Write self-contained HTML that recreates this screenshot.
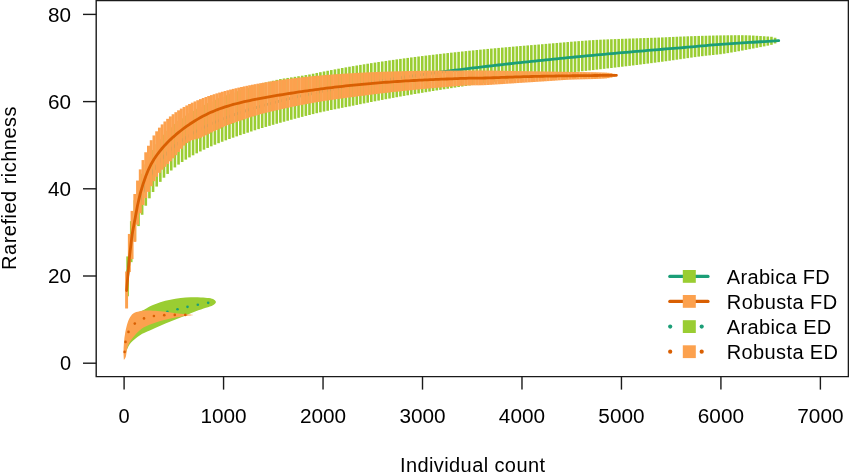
<!DOCTYPE html>
<html><head><meta charset="utf-8"><style>
html,body{margin:0;padding:0;background:#fff;}
body{width:849px;height:473px;overflow:hidden;}
svg{display:block;will-change:transform;}
text{font-family:"Liberation Sans",sans-serif;font-size:20px;fill:#000;}
</style></head><body>
<svg width="849" height="473" viewBox="0 0 849 473">
<rect width="849" height="473" fill="#fff"/>
<g stroke="#9acd32" stroke-width="2.60" stroke-linecap="butt">
<line x1="127.60" y1="256.42" x2="127.60" y2="296.25"/>
<line x1="131.24" y1="221.18" x2="131.24" y2="262.16"/>
<line x1="134.88" y1="200.24" x2="134.88" y2="240.96"/>
<line x1="138.51" y1="185.24" x2="138.51" y2="226.09"/>
<line x1="142.15" y1="173.69" x2="142.15" y2="214.76"/>
<line x1="145.79" y1="164.35" x2="145.79" y2="205.73"/>
<line x1="149.43" y1="156.54" x2="149.43" y2="198.32"/>
<line x1="153.06" y1="149.95" x2="153.06" y2="191.99"/>
<line x1="156.70" y1="144.24" x2="156.70" y2="186.56"/>
<line x1="160.34" y1="139.20" x2="160.34" y2="181.85"/>
<line x1="163.97" y1="134.71" x2="163.97" y2="177.71"/>
<line x1="167.61" y1="130.78" x2="167.61" y2="173.93"/>
<line x1="171.25" y1="127.25" x2="171.25" y2="170.51"/>
<line x1="174.89" y1="124.02" x2="174.89" y2="167.42"/>
<line x1="178.53" y1="121.03" x2="178.53" y2="164.60"/>
<line x1="182.16" y1="118.25" x2="182.16" y2="162.02"/>
<line x1="185.80" y1="115.66" x2="185.80" y2="159.63"/>
<line x1="189.44" y1="113.23" x2="189.44" y2="157.40"/>
<line x1="193.07" y1="110.96" x2="193.07" y2="155.31"/>
<line x1="196.71" y1="108.81" x2="196.71" y2="153.34"/>
<line x1="200.35" y1="106.78" x2="200.35" y2="151.47"/>
<line x1="203.99" y1="104.88" x2="203.99" y2="149.68"/>
<line x1="207.62" y1="103.08" x2="207.62" y2="147.96"/>
<line x1="211.26" y1="101.36" x2="211.26" y2="146.32"/>
<line x1="214.90" y1="99.73" x2="214.90" y2="144.74"/>
<line x1="218.54" y1="98.17" x2="218.54" y2="143.21"/>
<line x1="222.18" y1="96.67" x2="222.18" y2="141.76"/>
<line x1="225.81" y1="95.22" x2="225.81" y2="140.35"/>
<line x1="229.45" y1="93.83" x2="229.45" y2="139.00"/>
<line x1="233.09" y1="92.49" x2="233.09" y2="137.67"/>
<line x1="236.72" y1="91.21" x2="236.72" y2="136.39"/>
<line x1="240.36" y1="89.97" x2="240.36" y2="135.13"/>
<line x1="244.00" y1="88.78" x2="244.00" y2="133.90"/>
<line x1="247.64" y1="87.66" x2="247.64" y2="132.68"/>
<line x1="251.28" y1="86.58" x2="251.28" y2="131.48"/>
<line x1="254.91" y1="85.54" x2="254.91" y2="130.29"/>
<line x1="258.55" y1="84.54" x2="258.55" y2="129.13"/>
<line x1="262.19" y1="83.55" x2="262.19" y2="128.01"/>
<line x1="265.82" y1="82.58" x2="265.82" y2="126.92"/>
<line x1="269.46" y1="81.65" x2="269.46" y2="125.86"/>
<line x1="273.10" y1="80.74" x2="273.10" y2="124.80"/>
<line x1="276.74" y1="79.86" x2="276.74" y2="123.76"/>
<line x1="280.38" y1="79.04" x2="280.38" y2="122.74"/>
<line x1="284.01" y1="78.49" x2="284.01" y2="121.73"/>
<line x1="287.65" y1="77.94" x2="287.65" y2="120.73"/>
<line x1="291.29" y1="77.38" x2="291.29" y2="119.75"/>
<line x1="294.93" y1="76.82" x2="294.93" y2="118.78"/>
<line x1="298.56" y1="76.25" x2="298.56" y2="117.82"/>
<line x1="302.20" y1="75.67" x2="302.20" y2="116.87"/>
<line x1="305.84" y1="75.07" x2="305.84" y2="115.93"/>
<line x1="309.48" y1="74.47" x2="309.48" y2="115.01"/>
<line x1="313.11" y1="73.71" x2="313.11" y2="114.09"/>
<line x1="316.75" y1="72.95" x2="316.75" y2="113.19"/>
<line x1="320.39" y1="72.20" x2="320.39" y2="112.31"/>
<line x1="324.02" y1="71.47" x2="324.02" y2="111.54"/>
<line x1="327.66" y1="70.76" x2="327.66" y2="110.78"/>
<line x1="331.30" y1="70.05" x2="331.30" y2="110.03"/>
<line x1="334.94" y1="69.36" x2="334.94" y2="109.29"/>
<line x1="338.58" y1="68.69" x2="338.58" y2="108.56"/>
<line x1="342.21" y1="68.02" x2="342.21" y2="107.84"/>
<line x1="345.85" y1="67.37" x2="345.85" y2="107.13"/>
<line x1="349.49" y1="66.73" x2="349.49" y2="106.43"/>
<line x1="353.12" y1="66.11" x2="353.12" y2="105.68"/>
<line x1="356.76" y1="65.49" x2="356.76" y2="104.93"/>
<line x1="360.40" y1="64.89" x2="360.40" y2="104.18"/>
<line x1="364.04" y1="64.29" x2="364.04" y2="103.45"/>
<line x1="367.68" y1="63.71" x2="367.68" y2="102.72"/>
<line x1="371.31" y1="63.13" x2="371.31" y2="102.01"/>
<line x1="374.95" y1="62.57" x2="374.95" y2="101.30"/>
<line x1="378.59" y1="62.02" x2="378.59" y2="100.60"/>
<line x1="382.23" y1="61.47" x2="382.23" y2="99.91"/>
<line x1="385.86" y1="60.94" x2="385.86" y2="99.22"/>
<line x1="389.50" y1="60.41" x2="389.50" y2="98.55"/>
<line x1="393.14" y1="59.90" x2="393.14" y2="97.88"/>
<line x1="396.77" y1="59.39" x2="396.77" y2="97.22"/>
<line x1="400.41" y1="58.89" x2="400.41" y2="96.56"/>
<line x1="404.05" y1="58.39" x2="404.05" y2="95.92"/>
<line x1="407.69" y1="57.91" x2="407.69" y2="95.28"/>
<line x1="411.33" y1="57.43" x2="411.33" y2="94.65"/>
<line x1="414.96" y1="56.96" x2="414.96" y2="94.03"/>
<line x1="418.60" y1="56.50" x2="418.60" y2="93.41"/>
<line x1="422.24" y1="56.05" x2="422.24" y2="92.80"/>
<line x1="425.88" y1="55.60" x2="425.88" y2="92.20"/>
<line x1="429.51" y1="55.16" x2="429.51" y2="91.60"/>
<line x1="433.15" y1="54.73" x2="433.15" y2="91.01"/>
<line x1="436.79" y1="54.30" x2="436.79" y2="90.43"/>
<line x1="440.42" y1="53.88" x2="440.42" y2="89.85"/>
<line x1="444.06" y1="53.46" x2="444.06" y2="89.28"/>
<line x1="447.70" y1="53.06" x2="447.70" y2="88.71"/>
<line x1="451.34" y1="52.65" x2="451.34" y2="88.15"/>
<line x1="454.98" y1="52.26" x2="454.98" y2="87.60"/>
<line x1="458.61" y1="51.87" x2="458.61" y2="87.05"/>
<line x1="462.25" y1="51.48" x2="462.25" y2="86.51"/>
<line x1="465.89" y1="51.10" x2="465.89" y2="85.97"/>
<line x1="469.52" y1="50.73" x2="469.52" y2="85.44"/>
<line x1="473.16" y1="50.36" x2="473.16" y2="84.91"/>
<line x1="476.80" y1="49.99" x2="476.80" y2="84.39"/>
<line x1="480.44" y1="49.64" x2="480.44" y2="83.88"/>
<line x1="484.08" y1="49.28" x2="484.08" y2="83.37"/>
<line x1="487.71" y1="48.93" x2="487.71" y2="82.86"/>
<line x1="491.35" y1="48.59" x2="491.35" y2="82.36"/>
<line x1="494.99" y1="48.25" x2="494.99" y2="81.87"/>
<line x1="498.62" y1="47.92" x2="498.62" y2="81.38"/>
<line x1="502.26" y1="47.59" x2="502.26" y2="80.89"/>
<line x1="505.90" y1="47.26" x2="505.90" y2="80.41"/>
<line x1="509.54" y1="46.94" x2="509.54" y2="79.94"/>
<line x1="513.18" y1="46.62" x2="513.18" y2="79.46"/>
<line x1="516.81" y1="46.31" x2="516.81" y2="79.00"/>
<line x1="520.45" y1="46.00" x2="520.45" y2="78.53"/>
<line x1="524.09" y1="45.70" x2="524.09" y2="78.08"/>
<line x1="527.73" y1="45.40" x2="527.73" y2="77.62"/>
<line x1="531.36" y1="45.10" x2="531.36" y2="77.17"/>
<line x1="535.00" y1="44.81" x2="535.00" y2="76.73"/>
<line x1="538.64" y1="44.52" x2="538.64" y2="76.28"/>
<line x1="542.27" y1="44.20" x2="542.27" y2="75.85"/>
<line x1="545.91" y1="43.88" x2="545.91" y2="75.41"/>
<line x1="549.55" y1="43.57" x2="549.55" y2="74.98"/>
<line x1="553.19" y1="43.26" x2="553.19" y2="74.56"/>
<line x1="556.83" y1="42.96" x2="556.83" y2="74.14"/>
<line x1="560.46" y1="42.66" x2="560.46" y2="73.72"/>
<line x1="564.10" y1="42.35" x2="564.10" y2="73.30"/>
<line x1="567.74" y1="42.04" x2="567.74" y2="72.89"/>
<line x1="571.38" y1="41.72" x2="571.38" y2="72.48"/>
<line x1="575.01" y1="41.43" x2="575.01" y2="72.08"/>
<line x1="578.65" y1="41.14" x2="578.65" y2="71.67"/>
<line x1="582.29" y1="40.86" x2="582.29" y2="71.26"/>
<line x1="585.93" y1="40.59" x2="585.93" y2="70.86"/>
<line x1="589.56" y1="40.33" x2="589.56" y2="70.45"/>
<line x1="593.20" y1="40.09" x2="593.20" y2="70.05"/>
<line x1="596.84" y1="39.87" x2="596.84" y2="69.64"/>
<line x1="600.48" y1="39.68" x2="600.48" y2="69.23"/>
<line x1="604.11" y1="39.51" x2="604.11" y2="68.82"/>
<line x1="607.75" y1="39.36" x2="607.75" y2="68.41"/>
<line x1="611.39" y1="39.22" x2="611.39" y2="67.99"/>
<line x1="615.02" y1="39.08" x2="615.02" y2="67.57"/>
<line x1="618.66" y1="38.95" x2="618.66" y2="67.15"/>
<line x1="622.30" y1="38.82" x2="622.30" y2="66.72"/>
<line x1="625.94" y1="38.69" x2="625.94" y2="66.29"/>
<line x1="629.58" y1="38.56" x2="629.58" y2="65.86"/>
<line x1="633.21" y1="38.43" x2="633.21" y2="65.42"/>
<line x1="636.85" y1="38.31" x2="636.85" y2="64.98"/>
<line x1="640.49" y1="38.18" x2="640.49" y2="64.53"/>
<line x1="644.12" y1="38.06" x2="644.12" y2="64.07"/>
<line x1="647.76" y1="37.94" x2="647.76" y2="63.61"/>
<line x1="651.40" y1="37.81" x2="651.40" y2="63.15"/>
<line x1="655.04" y1="37.69" x2="655.04" y2="62.68"/>
<line x1="658.68" y1="37.55" x2="658.68" y2="62.20"/>
<line x1="662.31" y1="37.40" x2="662.31" y2="61.72"/>
<line x1="665.95" y1="37.24" x2="665.95" y2="61.23"/>
<line x1="669.59" y1="37.07" x2="669.59" y2="60.73"/>
<line x1="673.23" y1="36.90" x2="673.23" y2="60.23"/>
<line x1="676.86" y1="36.73" x2="676.86" y2="59.72"/>
<line x1="680.50" y1="36.58" x2="680.50" y2="59.20"/>
<line x1="684.14" y1="36.44" x2="684.14" y2="58.67"/>
<line x1="687.78" y1="36.30" x2="687.78" y2="58.14"/>
<line x1="691.41" y1="36.18" x2="691.41" y2="57.61"/>
<line x1="695.05" y1="36.05" x2="695.05" y2="57.10"/>
<line x1="698.69" y1="35.94" x2="698.69" y2="56.62"/>
<line x1="702.33" y1="35.83" x2="702.33" y2="56.17"/>
<line x1="705.96" y1="35.73" x2="705.96" y2="55.75"/>
<line x1="709.60" y1="35.62" x2="709.60" y2="55.35"/>
<line x1="713.24" y1="35.53" x2="713.24" y2="54.98"/>
<line x1="716.88" y1="35.45" x2="716.88" y2="54.61"/>
<line x1="720.51" y1="35.39" x2="720.51" y2="54.23"/>
<line x1="724.15" y1="35.34" x2="724.15" y2="53.69"/>
<line x1="727.79" y1="35.29" x2="727.79" y2="53.12"/>
<line x1="731.43" y1="35.25" x2="731.43" y2="52.51"/>
<line x1="735.06" y1="35.22" x2="735.06" y2="51.88"/>
<line x1="738.70" y1="35.20" x2="738.70" y2="51.23"/>
<line x1="742.34" y1="35.22" x2="742.34" y2="50.56"/>
<line x1="745.98" y1="35.29" x2="745.98" y2="49.88"/>
<line x1="749.61" y1="35.39" x2="749.61" y2="49.19"/>
<line x1="753.25" y1="35.55" x2="753.25" y2="48.49"/>
<line x1="756.89" y1="35.79" x2="756.89" y2="47.80"/>
<line x1="760.53" y1="36.03" x2="760.53" y2="47.10"/>
<line x1="764.16" y1="36.25" x2="764.16" y2="46.40"/>
<line x1="767.80" y1="36.49" x2="767.80" y2="45.64"/>
<line x1="771.44" y1="36.76" x2="771.44" y2="44.83"/>
<line x1="775.08" y1="37.73" x2="775.08" y2="43.46"/>
<line x1="778.71" y1="40.62" x2="778.71" y2="40.58"/>
</g>
<path d="M127.60,276.34 L131.24,241.67 L134.88,220.60 L138.51,205.66 L142.15,194.23 L145.79,185.04 L149.43,177.43 L153.06,170.97 L156.70,165.40 L160.34,160.52 L163.97,156.21 L167.61,152.35 L171.25,148.88 L174.89,145.72 L178.53,142.82 L182.16,140.14 L185.80,137.64 L189.44,135.32 L193.07,133.13 L196.71,131.08 L200.35,129.13 L203.99,127.28 L207.62,125.52 L211.26,123.84 L214.90,122.23 L218.54,120.69 L222.18,119.21 L225.81,117.79 L229.45,116.41 L233.09,115.08 L236.72,113.80 L240.36,112.55 L244.00,111.34 L247.64,110.17 L251.28,109.03 L254.91,107.92 L258.55,106.84 L262.19,105.78 L265.82,104.75 L269.46,103.75 L273.10,102.77 L276.74,101.81 L280.38,100.88 L284.01,99.96 L287.65,99.06 L291.29,98.19 L294.93,97.33 L298.56,96.48 L302.20,95.66 L305.84,94.84 L309.48,94.05 L313.11,93.27 L316.75,92.50 L320.39,91.74 L324.02,91.00 L327.66,90.27 L331.30,89.55 L334.94,88.85 L338.58,88.15 L342.21,87.47 L345.85,86.80 L349.49,86.13 L353.12,85.48 L356.76,84.84 L360.40,84.20 L364.04,83.58 L367.68,82.96 L371.31,82.35 L374.95,81.75 L378.59,81.16 L382.23,80.58 L385.86,80.00 L389.50,79.43 L393.14,78.87 L396.77,78.31 L400.41,77.76 L404.05,77.22 L407.69,76.68 L411.33,76.15 L414.96,75.63 L418.60,75.11 L422.24,74.60 L425.88,74.10 L429.51,73.59 L433.15,73.10 L436.79,72.61 L440.42,72.12 L444.06,71.65 L447.70,71.17 L451.34,70.70 L454.98,70.24 L458.61,69.77 L462.25,69.32 L465.89,68.87 L469.52,68.42 L473.16,67.98 L476.80,67.54 L480.44,67.10 L484.08,66.67 L487.71,66.25 L491.35,65.82 L494.99,65.40 L498.62,64.99 L502.26,64.58 L505.90,64.17 L509.54,63.76 L513.18,63.36 L516.81,62.96 L520.45,62.57 L524.09,62.18 L527.73,61.79 L531.36,61.40 L535.00,61.02 L538.64,60.64 L542.27,60.27 L545.91,59.89 L549.55,59.52 L553.19,59.16 L556.83,58.79 L560.46,58.43 L564.10,58.07 L567.74,57.71 L571.38,57.36 L575.01,57.01 L578.65,56.66 L582.29,56.31 L585.93,55.97 L589.56,55.63 L593.20,55.29 L596.84,54.95 L600.48,54.62 L604.11,54.29 L607.75,53.96 L611.39,53.63 L615.02,53.30 L618.66,52.98 L622.30,52.66 L625.94,52.34 L629.58,52.02 L633.21,51.71 L636.85,51.40 L640.49,51.09 L644.12,50.78 L647.76,50.47 L651.40,50.16 L655.04,49.86 L658.68,49.56 L662.31,49.26 L665.95,48.96 L669.59,48.67 L673.23,48.37 L676.86,48.08 L680.50,47.79 L684.14,47.50 L687.78,47.21 L691.41,46.89 L695.05,46.54 L698.69,46.19 L702.33,45.86 L705.96,45.54 L709.60,45.23 L713.24,44.93 L716.88,44.64 L720.51,44.37 L724.15,44.13 L727.79,43.89 L731.43,43.65 L735.06,43.41 L738.70,43.17 L742.34,42.94 L745.98,42.70 L749.61,42.47 L753.25,42.23 L756.89,42.00 L760.53,41.77 L764.16,41.53 L767.80,41.30 L771.44,41.07 L775.08,40.85 L778.71,40.62" fill="none" stroke="#1b9e77" stroke-width="2.8" stroke-linecap="round" stroke-linejoin="round"/>
<g stroke="#fca14e" stroke-width="2.95" stroke-linecap="butt">
<line x1="126.60" y1="271.49" x2="126.60" y2="308.50"/>
<line x1="129.34" y1="233.95" x2="129.34" y2="272.05"/>
<line x1="132.07" y1="210.92" x2="132.07" y2="259.11"/>
<line x1="134.81" y1="194.02" x2="134.81" y2="241.91"/>
<line x1="137.55" y1="180.55" x2="137.55" y2="224.66"/>
<line x1="140.28" y1="169.38" x2="140.28" y2="213.22"/>
<line x1="143.02" y1="160.07" x2="143.02" y2="204.99"/>
<line x1="145.76" y1="152.27" x2="145.76" y2="198.05"/>
<line x1="148.49" y1="145.73" x2="148.49" y2="191.85"/>
<line x1="151.23" y1="140.20" x2="151.23" y2="186.23"/>
<line x1="153.97" y1="135.44" x2="153.97" y2="181.22"/>
<line x1="156.70" y1="131.30" x2="156.70" y2="176.77"/>
<line x1="159.44" y1="127.64" x2="159.44" y2="172.82"/>
<line x1="162.17" y1="124.39" x2="162.17" y2="169.70"/>
<line x1="164.91" y1="121.47" x2="164.91" y2="166.86"/>
<line x1="167.65" y1="118.82" x2="167.65" y2="164.09"/>
<line x1="170.38" y1="116.42" x2="170.38" y2="161.28"/>
<line x1="173.12" y1="114.22" x2="173.12" y2="158.31"/>
<line x1="175.86" y1="112.19" x2="175.86" y2="155.23"/>
<line x1="178.59" y1="110.32" x2="178.59" y2="152.03"/>
<line x1="181.33" y1="108.58" x2="181.33" y2="148.74"/>
<line x1="184.07" y1="106.95" x2="184.07" y2="145.60"/>
<line x1="186.80" y1="105.44" x2="186.80" y2="143.05"/>
<line x1="189.54" y1="104.02" x2="189.54" y2="141.41"/>
<line x1="192.28" y1="102.68" x2="192.28" y2="140.19"/>
<line x1="195.01" y1="101.42" x2="195.01" y2="139.34"/>
<line x1="197.75" y1="100.23" x2="197.75" y2="138.65"/>
<line x1="200.49" y1="99.10" x2="200.49" y2="137.84"/>
<line x1="203.22" y1="98.02" x2="203.22" y2="136.67"/>
<line x1="205.96" y1="97.00" x2="205.96" y2="135.31"/>
<line x1="208.69" y1="96.03" x2="208.69" y2="133.82"/>
<line x1="211.43" y1="95.10" x2="211.43" y2="132.46"/>
<line x1="214.17" y1="94.21" x2="214.17" y2="131.23"/>
<line x1="216.90" y1="93.35" x2="216.90" y2="129.97"/>
<line x1="219.64" y1="92.54" x2="219.64" y2="128.69"/>
<line x1="222.38" y1="91.75" x2="222.38" y2="127.42"/>
<line x1="225.11" y1="90.99" x2="225.11" y2="126.17"/>
<line x1="227.85" y1="90.26" x2="227.85" y2="125.08"/>
<line x1="230.59" y1="89.56" x2="230.59" y2="124.03"/>
<line x1="233.32" y1="88.88" x2="233.32" y2="123.04"/>
<line x1="236.06" y1="88.22" x2="236.06" y2="122.09"/>
<line x1="238.80" y1="87.59" x2="238.80" y2="121.19"/>
<line x1="241.53" y1="86.97" x2="241.53" y2="120.25"/>
<line x1="244.27" y1="86.38" x2="244.27" y2="119.28"/>
<line x1="247.01" y1="85.80" x2="247.01" y2="118.34"/>
<line x1="249.74" y1="85.24" x2="249.74" y2="117.44"/>
<line x1="252.48" y1="84.70" x2="252.48" y2="116.58"/>
<line x1="255.22" y1="84.17" x2="255.22" y2="115.74"/>
<line x1="257.95" y1="83.66" x2="257.95" y2="114.93"/>
<line x1="260.69" y1="83.17" x2="260.69" y2="114.16"/>
<line x1="263.42" y1="82.69" x2="263.42" y2="113.44"/>
<line x1="266.16" y1="82.22" x2="266.16" y2="112.75"/>
<line x1="268.90" y1="81.77" x2="268.90" y2="112.07"/>
<line x1="271.63" y1="81.33" x2="271.63" y2="111.42"/>
<line x1="274.37" y1="80.91" x2="274.37" y2="110.79"/>
<line x1="277.11" y1="80.50" x2="277.11" y2="110.17"/>
<line x1="279.84" y1="80.10" x2="279.84" y2="109.58"/>
<line x1="282.58" y1="79.72" x2="282.58" y2="108.95"/>
<line x1="285.32" y1="79.35" x2="285.32" y2="108.34"/>
<line x1="288.05" y1="78.99" x2="288.05" y2="107.74"/>
<line x1="290.79" y1="78.64" x2="290.79" y2="107.16"/>
<line x1="293.53" y1="78.30" x2="293.53" y2="106.59"/>
<line x1="296.26" y1="77.97" x2="296.26" y2="106.03"/>
<line x1="299.00" y1="77.65" x2="299.00" y2="105.48"/>
<line x1="301.74" y1="77.34" x2="301.74" y2="104.95"/>
<line x1="304.47" y1="77.04" x2="304.47" y2="104.43"/>
<line x1="307.21" y1="76.76" x2="307.21" y2="103.91"/>
<line x1="309.95" y1="76.48" x2="309.95" y2="103.41"/>
<line x1="312.68" y1="76.21" x2="312.68" y2="102.91"/>
<line x1="315.42" y1="75.95" x2="315.42" y2="102.43"/>
<line x1="318.15" y1="75.69" x2="318.15" y2="101.95"/>
<line x1="320.89" y1="75.45" x2="320.89" y2="101.50"/>
<line x1="323.63" y1="75.21" x2="323.63" y2="101.08"/>
<line x1="326.36" y1="74.98" x2="326.36" y2="100.66"/>
<line x1="329.10" y1="74.76" x2="329.10" y2="100.26"/>
<line x1="331.84" y1="74.55" x2="331.84" y2="99.86"/>
<line x1="334.57" y1="74.35" x2="334.57" y2="99.47"/>
<line x1="337.31" y1="74.15" x2="337.31" y2="99.08"/>
<line x1="340.05" y1="73.96" x2="340.05" y2="98.70"/>
<line x1="342.78" y1="73.77" x2="342.78" y2="98.33"/>
<line x1="345.52" y1="73.60" x2="345.52" y2="97.96"/>
<line x1="348.26" y1="73.42" x2="348.26" y2="97.60"/>
<line x1="350.99" y1="73.26" x2="350.99" y2="97.24"/>
<line x1="353.73" y1="73.10" x2="353.73" y2="96.89"/>
<line x1="356.47" y1="72.95" x2="356.47" y2="96.54"/>
<line x1="359.20" y1="72.80" x2="359.20" y2="96.20"/>
<line x1="361.94" y1="72.66" x2="361.94" y2="95.85"/>
<line x1="364.68" y1="72.53" x2="364.68" y2="95.48"/>
<line x1="367.41" y1="72.40" x2="367.41" y2="95.13"/>
<line x1="370.15" y1="72.27" x2="370.15" y2="94.78"/>
<line x1="372.88" y1="72.16" x2="372.88" y2="94.43"/>
<line x1="375.62" y1="72.04" x2="375.62" y2="94.09"/>
<line x1="378.36" y1="71.93" x2="378.36" y2="93.76"/>
<line x1="381.09" y1="71.83" x2="381.09" y2="93.43"/>
<line x1="383.83" y1="71.73" x2="383.83" y2="93.11"/>
<line x1="386.57" y1="71.64" x2="386.57" y2="92.79"/>
<line x1="389.30" y1="71.55" x2="389.30" y2="92.48"/>
<line x1="392.04" y1="71.46" x2="392.04" y2="92.18"/>
<line x1="394.78" y1="71.38" x2="394.78" y2="91.88"/>
<line x1="397.51" y1="71.31" x2="397.51" y2="91.59"/>
<line x1="400.25" y1="71.24" x2="400.25" y2="91.30"/>
<line x1="402.99" y1="71.17" x2="402.99" y2="91.00"/>
<line x1="405.72" y1="71.11" x2="405.72" y2="90.71"/>
<line x1="408.46" y1="71.05" x2="408.46" y2="90.43"/>
<line x1="411.20" y1="70.99" x2="411.20" y2="90.15"/>
<line x1="413.93" y1="70.94" x2="413.93" y2="89.88"/>
<line x1="416.67" y1="70.89" x2="416.67" y2="89.61"/>
<line x1="419.41" y1="70.85" x2="419.41" y2="89.35"/>
<line x1="422.14" y1="70.81" x2="422.14" y2="89.09"/>
<line x1="424.88" y1="70.77" x2="424.88" y2="88.84"/>
<line x1="427.62" y1="70.74" x2="427.62" y2="88.60"/>
<line x1="430.35" y1="70.71" x2="430.35" y2="88.36"/>
<line x1="433.09" y1="70.68" x2="433.09" y2="88.12"/>
<line x1="435.82" y1="70.66" x2="435.82" y2="87.89"/>
<line x1="438.56" y1="70.64" x2="438.56" y2="87.67"/>
<line x1="441.30" y1="70.63" x2="441.30" y2="87.43"/>
<line x1="444.03" y1="70.63" x2="444.03" y2="87.18"/>
<line x1="446.77" y1="70.62" x2="446.77" y2="86.94"/>
<line x1="449.51" y1="70.62" x2="449.51" y2="86.70"/>
<line x1="452.24" y1="70.62" x2="452.24" y2="86.47"/>
<line x1="454.98" y1="70.61" x2="454.98" y2="86.26"/>
<line x1="457.72" y1="70.61" x2="457.72" y2="86.05"/>
<line x1="460.45" y1="70.60" x2="460.45" y2="85.87"/>
<line x1="463.19" y1="70.59" x2="463.19" y2="85.70"/>
<line x1="465.93" y1="70.58" x2="465.93" y2="85.56"/>
<line x1="468.66" y1="70.57" x2="468.66" y2="85.45"/>
<line x1="471.40" y1="70.55" x2="471.40" y2="85.38"/>
<line x1="474.14" y1="70.53" x2="474.14" y2="85.33"/>
<line x1="476.87" y1="70.52" x2="476.87" y2="85.31"/>
<line x1="479.61" y1="70.50" x2="479.61" y2="85.30"/>
<line x1="482.35" y1="70.50" x2="482.35" y2="85.24"/>
<line x1="485.08" y1="70.52" x2="485.08" y2="85.14"/>
<line x1="487.82" y1="70.54" x2="487.82" y2="84.99"/>
<line x1="490.55" y1="70.57" x2="490.55" y2="84.82"/>
<line x1="493.29" y1="70.61" x2="493.29" y2="84.64"/>
<line x1="496.03" y1="70.65" x2="496.03" y2="84.46"/>
<line x1="498.76" y1="70.70" x2="498.76" y2="84.28"/>
<line x1="501.50" y1="70.75" x2="501.50" y2="84.11"/>
<line x1="504.24" y1="70.80" x2="504.24" y2="83.94"/>
<line x1="506.97" y1="70.86" x2="506.97" y2="83.76"/>
<line x1="509.71" y1="70.91" x2="509.71" y2="83.58"/>
<line x1="512.45" y1="70.97" x2="512.45" y2="83.40"/>
<line x1="515.18" y1="71.02" x2="515.18" y2="83.22"/>
<line x1="517.92" y1="71.07" x2="517.92" y2="83.04"/>
<line x1="520.66" y1="71.11" x2="520.66" y2="82.86"/>
<line x1="523.39" y1="71.15" x2="523.39" y2="82.68"/>
<line x1="526.13" y1="71.19" x2="526.13" y2="82.51"/>
<line x1="528.87" y1="71.24" x2="528.87" y2="82.33"/>
<line x1="531.60" y1="71.28" x2="531.60" y2="82.16"/>
<line x1="534.34" y1="71.32" x2="534.34" y2="81.98"/>
<line x1="537.07" y1="71.36" x2="537.07" y2="81.81"/>
<line x1="539.81" y1="71.40" x2="539.81" y2="81.63"/>
<line x1="542.55" y1="71.45" x2="542.55" y2="81.46"/>
<line x1="545.28" y1="71.49" x2="545.28" y2="81.28"/>
<line x1="548.02" y1="71.53" x2="548.02" y2="81.10"/>
<line x1="550.76" y1="71.58" x2="550.76" y2="80.91"/>
<line x1="553.49" y1="71.62" x2="553.49" y2="80.72"/>
<line x1="556.23" y1="71.66" x2="556.23" y2="80.53"/>
<line x1="558.97" y1="71.71" x2="558.97" y2="80.34"/>
<line x1="561.70" y1="71.76" x2="561.70" y2="80.16"/>
<line x1="564.44" y1="71.80" x2="564.44" y2="79.99"/>
<line x1="567.18" y1="71.85" x2="567.18" y2="79.84"/>
<line x1="569.91" y1="71.90" x2="569.91" y2="79.70"/>
<line x1="572.65" y1="71.94" x2="572.65" y2="79.59"/>
<line x1="575.39" y1="71.99" x2="575.39" y2="79.50"/>
<line x1="578.12" y1="72.02" x2="578.12" y2="79.42"/>
<line x1="580.86" y1="72.06" x2="580.86" y2="79.35"/>
<line x1="583.60" y1="72.10" x2="583.60" y2="79.28"/>
<line x1="586.33" y1="72.14" x2="586.33" y2="79.22"/>
<line x1="589.07" y1="72.18" x2="589.07" y2="79.16"/>
<line x1="591.80" y1="72.23" x2="591.80" y2="79.09"/>
<line x1="594.54" y1="72.29" x2="594.54" y2="79.00"/>
<line x1="597.28" y1="72.35" x2="597.28" y2="78.90"/>
<line x1="600.01" y1="72.43" x2="600.01" y2="78.78"/>
<line x1="602.75" y1="72.52" x2="602.75" y2="78.64"/>
<line x1="605.49" y1="72.62" x2="605.49" y2="78.46"/>
<line x1="608.22" y1="72.81" x2="608.22" y2="78.11"/>
<line x1="610.96" y1="73.13" x2="610.96" y2="77.56"/>
<line x1="613.70" y1="73.84" x2="613.70" y2="76.70"/>
<line x1="616.43" y1="75.32" x2="616.43" y2="75.28"/>
</g>
<path d="M126.60,290.50 L129.34,257.98 L132.07,234.79 L134.81,220.06 L137.55,205.21 L140.28,193.41 L143.02,184.17 L145.76,176.31 L148.49,169.56 L151.23,163.97 L153.97,159.28 L156.70,155.22 L159.44,151.59 L162.17,148.25 L164.91,145.18 L167.65,142.31 L170.38,139.62 L173.12,137.09 L175.86,134.70 L178.59,132.43 L181.33,130.26 L184.07,128.18 L186.80,126.20 L189.54,124.29 L192.28,122.48 L195.01,120.75 L197.75,119.11 L200.49,117.55 L203.22,116.07 L205.96,114.67 L208.69,113.35 L211.43,112.10 L214.17,110.93 L216.90,109.82 L219.64,108.79 L222.38,107.81 L225.11,106.90 L227.85,106.04 L230.59,105.23 L233.32,104.46 L236.06,103.73 L238.80,103.03 L241.53,102.36 L244.27,101.73 L247.01,101.11 L249.74,100.52 L252.48,99.95 L255.22,99.40 L257.95,98.87 L260.69,98.35 L263.42,97.84 L266.16,97.34 L268.90,96.86 L271.63,96.38 L274.37,95.92 L277.11,95.46 L279.84,95.00 L282.58,94.56 L285.32,94.12 L288.05,93.68 L290.79,93.25 L293.53,92.82 L296.26,92.40 L299.00,91.99 L301.74,91.58 L304.47,91.18 L307.21,90.79 L309.95,90.40 L312.68,90.02 L315.42,89.65 L318.15,89.28 L320.89,88.92 L323.63,88.56 L326.36,88.22 L329.10,87.88 L331.84,87.54 L334.57,87.22 L337.31,86.89 L340.05,86.58 L342.78,86.27 L345.52,85.97 L348.26,85.68 L350.99,85.39 L353.73,85.11 L356.47,84.84 L359.20,84.57 L361.94,84.31 L364.68,84.06 L367.41,83.81 L370.15,83.57 L372.88,83.33 L375.62,83.10 L378.36,82.88 L381.09,82.66 L383.83,82.45 L386.57,82.24 L389.30,82.04 L392.04,81.85 L394.78,81.66 L397.51,81.48 L400.25,81.30 L402.99,81.13 L405.72,80.96 L408.46,80.80 L411.20,80.64 L413.93,80.49 L416.67,80.34 L419.41,80.20 L422.14,80.06 L424.88,79.93 L427.62,79.80 L430.35,79.67 L433.09,79.54 L435.82,79.42 L438.56,79.31 L441.30,79.20 L444.03,79.10 L446.77,78.99 L449.51,78.89 L452.24,78.78 L454.98,78.67 L457.72,78.57 L460.45,78.47 L463.19,78.37 L465.93,78.29 L468.66,78.22 L471.40,78.17 L474.14,78.14 L476.87,78.12 L479.61,78.10 L482.35,78.06 L485.08,77.99 L487.82,77.92 L490.55,77.83 L493.29,77.73 L496.03,77.64 L498.76,77.54 L501.50,77.45 L504.24,77.35 L506.97,77.25 L509.71,77.15 L512.45,77.05 L515.18,76.95 L517.92,76.86 L520.66,76.78 L523.39,76.70 L526.13,76.63 L528.87,76.56 L531.60,76.49 L534.34,76.43 L537.07,76.36 L539.81,76.30 L542.55,76.25 L545.28,76.19 L548.02,76.14 L550.76,76.09 L553.49,76.05 L556.23,76.00 L558.97,75.96 L561.70,75.92 L564.44,75.88 L567.18,75.84 L569.91,75.80 L572.65,75.76 L575.39,75.73 L578.12,75.69 L580.86,75.66 L583.60,75.63 L586.33,75.60 L589.07,75.57 L591.80,75.54 L594.54,75.51 L597.28,75.48 L600.01,75.45 L602.75,75.42 L605.49,75.40 L608.22,75.37 L610.96,75.35 L613.70,75.32 L616.43,75.30" fill="none" stroke="#d95f02" stroke-width="2.8" stroke-linecap="round" stroke-linejoin="round"/>
<path d="M124.50,352.00 C124.75,349.17 125.25,340.00 126.00,335.00 C126.75,330.00 127.67,325.50 129.00,322.00 C130.33,318.50 132.17,315.75 134.00,314.00 C135.83,312.25 138.32,312.20 140.00,311.50 C141.68,310.80 142.42,310.67 144.10,309.80 C145.78,308.93 147.40,307.57 150.10,306.30 C152.80,305.03 156.92,303.30 160.30,302.20 C163.68,301.10 167.02,300.38 170.40,299.70 C173.78,299.02 177.22,298.50 180.60,298.10 C183.98,297.70 187.32,297.42 190.70,297.30 C194.08,297.18 197.85,297.27 200.90,297.40 C203.95,297.53 206.80,297.72 209.00,298.10 C211.20,298.48 212.95,299.02 214.10,299.70 C215.25,300.38 216.08,301.28 215.90,302.20 C215.72,303.12 214.67,304.27 213.00,305.20 C211.33,306.13 208.77,306.78 205.90,307.80 C203.03,308.82 199.17,310.03 195.80,311.30 C192.43,312.57 189.08,314.05 185.70,315.40 C182.32,316.75 178.88,318.05 175.50,319.40 C172.12,320.75 168.78,322.05 165.40,323.50 C162.02,324.95 158.58,326.58 155.20,328.10 C151.82,329.62 147.63,331.42 145.10,332.60 C142.57,333.78 141.68,334.13 140.00,335.20 C138.32,336.27 136.48,337.78 135.00,339.00 C133.52,340.22 132.18,341.30 131.10,342.50 C130.02,343.70 129.27,344.78 128.50,346.20 C127.73,347.62 127.08,349.20 126.50,351.00 C125.92,352.80 125.33,355.67 125.00,357.00 C124.67,358.33 124.58,358.67 124.50,359.00" fill="#9acd32"/>
<circle cx="133.00" cy="320.50" r="1.3" fill="#1b9e77"/>
<circle cx="141.50" cy="315.50" r="1.3" fill="#1b9e77"/>
<circle cx="151.50" cy="313.60" r="1.3" fill="#1b9e77"/>
<circle cx="161.50" cy="313.20" r="1.3" fill="#1b9e77"/>
<circle cx="167.40" cy="311.80" r="1.3" fill="#1b9e77"/>
<circle cx="177.50" cy="309.30" r="1.3" fill="#1b9e77"/>
<circle cx="187.50" cy="306.85" r="1.3" fill="#1b9e77"/>
<circle cx="197.80" cy="304.75" r="1.3" fill="#1b9e77"/>
<circle cx="208.20" cy="302.85" r="1.3" fill="#1b9e77"/>
<path d="M123.90,360.00 C123.83,358.75 123.50,355.28 123.50,352.50 C123.50,349.72 123.62,346.58 123.90,343.30 C124.18,340.02 124.55,336.30 125.20,332.80 C125.85,329.30 126.82,325.15 127.80,322.30 C128.78,319.45 129.88,317.33 131.10,315.70 C132.32,314.07 133.57,313.25 135.10,312.50 C136.63,311.75 138.63,311.53 140.30,311.20 C141.97,310.87 142.62,310.57 145.10,310.50 C147.58,310.43 151.82,310.58 155.20,310.80 C158.58,311.02 162.02,311.40 165.40,311.80 C168.78,312.20 172.12,312.80 175.50,313.20 C178.88,313.60 182.82,313.92 185.70,314.20 C188.58,314.48 192.30,314.67 192.80,314.90 C193.30,315.13 190.73,315.30 188.70,315.60 C186.67,315.90 183.65,316.23 180.60,316.70 C177.55,317.17 173.78,317.68 170.40,318.40 C167.02,319.12 163.68,319.98 160.30,321.00 C156.92,322.02 153.22,323.20 150.10,324.50 C146.98,325.80 144.10,327.05 141.60,328.80 C139.10,330.55 137.07,332.80 135.10,335.00 C133.13,337.20 131.12,339.73 129.80,342.00 C128.48,344.27 127.85,346.20 127.20,348.60 C126.55,351.00 126.45,354.50 125.90,356.40 C125.35,358.30 124.23,359.40 123.90,360.00" fill="#fca14e"/>
<circle cx="124.60" cy="351.90" r="1.3" fill="#d95f02"/>
<circle cx="125.50" cy="341.90" r="1.3" fill="#d95f02"/>
<circle cx="128.50" cy="331.90" r="1.3" fill="#d95f02"/>
<circle cx="134.80" cy="323.60" r="1.3" fill="#d95f02"/>
<circle cx="144.00" cy="318.40" r="1.3" fill="#d95f02"/>
<circle cx="153.90" cy="316.05" r="1.3" fill="#d95f02"/>
<circle cx="164.25" cy="315.15" r="1.3" fill="#d95f02"/>
<circle cx="174.80" cy="314.90" r="1.3" fill="#d95f02"/>
<circle cx="185.30" cy="314.90" r="1.3" fill="#d95f02"/>
<path d="M96.2,0.5 L848.4,0.5 L848.4,376.6 L96.2,376.6 Z" fill="none" stroke="#1a1a1a" stroke-width="1.4"/>
<line x1="124.10" y1="376.6" x2="124.10" y2="389.6" stroke="#1a1a1a" stroke-width="1.4"/>
<text x="124.10" y="422.6" text-anchor="middle">0</text>
<line x1="223.57" y1="376.6" x2="223.57" y2="389.6" stroke="#1a1a1a" stroke-width="1.4"/>
<text x="223.57" y="422.6" text-anchor="middle" textLength="46.2" lengthAdjust="spacingAndGlyphs">1000</text>
<line x1="323.04" y1="376.6" x2="323.04" y2="389.6" stroke="#1a1a1a" stroke-width="1.4"/>
<text x="323.04" y="422.6" text-anchor="middle" textLength="46.2" lengthAdjust="spacingAndGlyphs">2000</text>
<line x1="422.51" y1="376.6" x2="422.51" y2="389.6" stroke="#1a1a1a" stroke-width="1.4"/>
<text x="422.51" y="422.6" text-anchor="middle" textLength="46.2" lengthAdjust="spacingAndGlyphs">3000</text>
<line x1="521.98" y1="376.6" x2="521.98" y2="389.6" stroke="#1a1a1a" stroke-width="1.4"/>
<text x="521.98" y="422.6" text-anchor="middle" textLength="46.2" lengthAdjust="spacingAndGlyphs">4000</text>
<line x1="621.45" y1="376.6" x2="621.45" y2="389.6" stroke="#1a1a1a" stroke-width="1.4"/>
<text x="621.45" y="422.6" text-anchor="middle" textLength="46.2" lengthAdjust="spacingAndGlyphs">5000</text>
<line x1="720.92" y1="376.6" x2="720.92" y2="389.6" stroke="#1a1a1a" stroke-width="1.4"/>
<text x="720.92" y="422.6" text-anchor="middle" textLength="46.2" lengthAdjust="spacingAndGlyphs">6000</text>
<line x1="820.39" y1="376.6" x2="820.39" y2="389.6" stroke="#1a1a1a" stroke-width="1.4"/>
<text x="820.39" y="422.6" text-anchor="middle" textLength="46.2" lengthAdjust="spacingAndGlyphs">7000</text>
<line x1="83" y1="363.20" x2="96.2" y2="363.20" stroke="#1a1a1a" stroke-width="1.4"/>
<text x="71" y="370.40" text-anchor="end">0</text>
<line x1="83" y1="276.00" x2="96.2" y2="276.00" stroke="#1a1a1a" stroke-width="1.4"/>
<text x="71" y="283.20" text-anchor="end" textLength="23.0" lengthAdjust="spacingAndGlyphs">20</text>
<line x1="83" y1="188.80" x2="96.2" y2="188.80" stroke="#1a1a1a" stroke-width="1.4"/>
<text x="71" y="196.00" text-anchor="end" textLength="23.0" lengthAdjust="spacingAndGlyphs">40</text>
<line x1="83" y1="101.60" x2="96.2" y2="101.60" stroke="#1a1a1a" stroke-width="1.4"/>
<text x="71" y="108.80" text-anchor="end" textLength="23.0" lengthAdjust="spacingAndGlyphs">60</text>
<line x1="83" y1="14.40" x2="96.2" y2="14.40" stroke="#1a1a1a" stroke-width="1.4"/>
<text x="71" y="21.60" text-anchor="end" textLength="23.0" lengthAdjust="spacingAndGlyphs">80</text>
<text x="472.5" y="471.9" text-anchor="middle" textLength="145" lengthAdjust="spacing">Individual count</text>
<text transform="translate(16.3,188.2) rotate(-90)" x="0" y="0" text-anchor="middle" textLength="163.4" lengthAdjust="spacing">Rarefied richness</text>
<line x1="669.8" y1="276.40" x2="708" y2="276.40" stroke="#1b9e77" stroke-width="3.2" stroke-linecap="round"/>
<rect x="682.8" y="270.00" width="13" height="12.8" fill="#9acd32"/>
<text x="726.8" y="284.00" textLength="103.0" lengthAdjust="spacing">Arabica FD</text>
<line x1="669.8" y1="301.40" x2="708" y2="301.40" stroke="#d95f02" stroke-width="3.2" stroke-linecap="round"/>
<rect x="682.8" y="295.00" width="13" height="12.8" fill="#fca14e"/>
<text x="726.8" y="309.00" textLength="110.3" lengthAdjust="spacing">Robusta FD</text>
<circle cx="670.2" cy="326.60" r="2.1" fill="#1b9e77"/>
<circle cx="701.7" cy="326.60" r="2.1" fill="#1b9e77"/>
<rect x="682.8" y="320.20" width="13" height="12.8" fill="#9acd32"/>
<text x="726.8" y="334.20" textLength="104.5" lengthAdjust="spacing">Arabica ED</text>
<circle cx="670.2" cy="351.70" r="2.1" fill="#d95f02"/>
<circle cx="701.7" cy="351.70" r="2.1" fill="#d95f02"/>
<rect x="682.8" y="345.30" width="13" height="12.8" fill="#fca14e"/>
<text x="726.8" y="359.30" textLength="111.2" lengthAdjust="spacing">Robusta ED</text>
</svg>
</body></html>
